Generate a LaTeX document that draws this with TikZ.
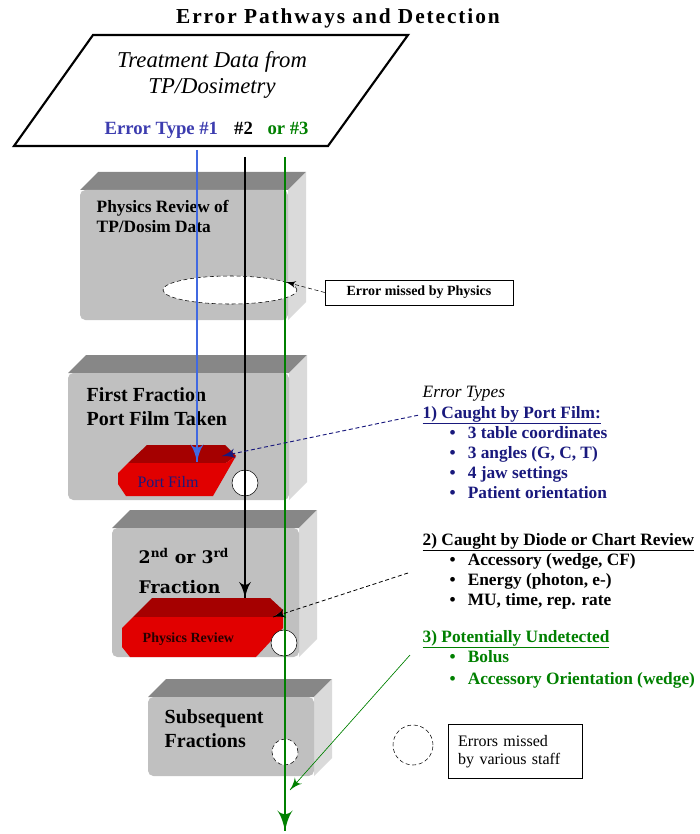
\documentclass[tikz,border=0pt]{standalone}
\usepackage{fontspec}
\setmainfont{Liberation Serif}
\newfontfamily\fracfont{DejaVu Serif}
\usetikzlibrary{arrows}
\usetikzlibrary{decorations.markings}
\usetikzlibrary{positioning}
\usetikzlibrary{shapes.geometric}
\tikzset{tipped/.style = {decoration={markings,
                                      mark=at position 1 with {\arrow[scale=#1]{latex'}}},
                          postaction={decorate}}}
\definecolor{tblue}{RGB}{65,105,225}
\definecolor{tnavy}{RGB}{25,25,125}
\definecolor{ttype}{RGB}{60,60,175}
\definecolor{tgreen}{RGB}{0,128,0}
\definecolor{gfront}{RGB}{192,192,192}
\definecolor{gtop}{RGB}{135,135,135}
\definecolor{gside}{RGB}{218,218,218}
\definecolor{rfront}{RGB}{225,0,0}
\definecolor{rtop}{RGB}{165,0,0}

\begin{document}
\begin{tikzpicture}[x=0.75pt, y=-0.75pt,
    boxlabel/.style = {anchor=base west, align=left, font=\bfseries\fontsize{15}{18}\selectfont},
    listline/.style = {anchor=base west, font=\bfseries\fontsize{13}{15}\selectfont},
    missed/.style = {circle, draw, fill=white, minimum size=19.5pt, inner sep=0pt}]
    \useasboundingbox (0, 0) rectangle (699, 834);

    % gray boxes
    \foreach \l/\t/\r/\b in {80/172/306/320, 68/355/307/500, 112/510/317/657, 148/679/332/776} {
      \fill [gtop] (\l, \t+18) -- (\l+18, \t) -- (\r, \t) -- (\r-18, \t+18) -- cycle;
      \fill [gside] (\r-18, \t+18) -- (\r, \t) -- (\r, \b-18) -- (\r-18, \b) -- cycle;
      \fill [gfront, rounded corners=4pt] (\l, \t+18) rectangle (\r-18, \b);
    }

    \node [font=\bfseries\fontsize{16}{18}\selectfont\addfontfeatures{LetterSpace=9}] (title) at (338, 18) {Error Pathways and Detection};

    \draw [line width=1.6pt] (93, 35) -- (408, 35) -- (328, 146) -- (14, 146) -- cycle;
    \node [align=center, font=\itshape\fontsize{17}{19.5}\selectfont] (tpdata) at (212, 75) {Treatment Data from\\TP/Dosimetry};
    \node [anchor=base west, ttype, font=\bfseries\fontsize{14}{16}\selectfont] (typeA) at (100, 135) {Error Type \#1};
    \node [right=5pt of typeA.base east, anchor=base west, font=\bfseries\fontsize{14}{16}\selectfont] (typeB) {\#2};
    \node [right=4pt of typeB.base east, anchor=base west, tgreen, font=\bfseries\fontsize{14}{16}\selectfont] (typeC) {or \#3};

    % box 1 (base of a two-line label is its last line)
    \node [boxlabel, font=\bfseries\fontsize{13}{15}\selectfont] (physlabel) at (92, 233) {Physics Review of\\TP/Dosim Data};
    \node [ellipse, draw, densely dashed, fill=white, minimum width=100.5pt, minimum height=21pt] (ell) at (230, 290) {};
    \node [draw, fill=white, minimum width=141pt, minimum height=18.75pt, font=\bfseries\fontsize{10.5}{12}\selectfont] (missbox) at (419, 292.5) {Error missed by Physics};

    % box 2
    \node [boxlabel] (firstlabel) at (82, 425) {First Fraction\\Port Film Taken};
    \fill [rtop] (128, 463) -- (147, 445) -- (225, 445) -- (236, 456) -- (226, 463) -- cycle;
    \fill [rfront] (118, 473) -- (128, 463) -- (226, 463) -- (236, 456) -- (213, 496) -- (126, 496) -- (118, 484) -- cycle;
    \node [tnavy, font=\fontsize{12}{14}\selectfont] (filmlabel) at (168, 482) {Port Film};
    \node [missed] (missA) at (245, 483) {};

    % box 3
    \node [boxlabel, font=\fracfont\bfseries\fontsize{13}{22.5}\selectfont] (seclabel) at (134, 593) {2\textsuperscript{nd} or 3\textsuperscript{rd}\\Fraction};
    \fill [rtop] (133, 617) -- (152, 598) -- (270, 598) -- (283, 610) -- (273, 617) -- cycle;
    \fill [rfront] (122, 628) -- (133, 617) -- (273, 617) -- (283, 610) -- (283, 628) -- (256, 657) -- (130, 657) -- (122, 647) -- cycle;
    \node [anchor=base west, font=\bfseries\fontsize{10.5}{12}\selectfont, black!85!red] (revlabel) at (138, 642) {Physics Review};
    \node [missed] (missB) at (284, 643) {};

    % box 4
    \node [boxlabel] (sublabel) at (160, 747) {Subsequent\\Fractions};
    \node [missed, densely dashed] (missC) at (285, 752) {};

    % legend
    \node [missed, densely dashed, minimum size=30pt] (legcircle) at (413, 745) {};
    \node [draw, line width=0.8pt, minimum height=40pt, inner xsep=7.5pt, text width=86pt, align=left, font=\fontsize{12}{14}\selectfont] (legbox) at (515.5, 751.5) {Errors missed\\by various staff};

    % error types
    \node [anchor=base west, font=\itshape\fontsize{13}{15}\selectfont] (types) at (418, 397) {Error Types};
    \node [listline, tnavy] (headA) at (418, 418) {\underline{1) Caught by Port Film:}};
    \node [listline, tnavy] (itemA1) at (445, 438) {\textbullet\hspace{9pt}3 table coordinates};
    \node [listline, tnavy] (itemA2) at (445, 458) {\textbullet\hspace{9pt}3 angles (G, C, T)};
    \node [listline, tnavy] (itemA3) at (445, 478) {\textbullet\hspace{9pt}4 jaw settings};
    \node [listline, tnavy] (itemA4) at (445, 498) {\textbullet\hspace{9pt}Patient orientation};
    \node [listline] (headB) at (418, 545) {\underline{2) Caught by Diode or Chart Review}};
    \node [listline] (itemB1) at (445, 565) {\textbullet\hspace{9pt}Accessory (wedge, CF)};
    \node [listline] (itemB2) at (445, 585) {\textbullet\hspace{9pt}Energy (photon, e-)};
    \node [listline] (itemB3) at (445, 605) {\textbullet\hspace{9pt}MU, time, rep. rate};
    \node [listline, tgreen] (headC) at (418, 642) {\underline{3) Potentially Undetected}};
    \node [listline, tgreen] (itemC1) at (445, 662) {\textbullet\hspace{9pt}Bolus};
    \node [listline, tgreen] (itemC2) at (445, 684) {\textbullet\hspace{9pt}Accessory Orientation (wedge)};

    % error paths
    \coordinate (srcA) at (197, 150);
    \coordinate (srcB) at (245, 157);
    \coordinate (srcC) at (285, 157);
    \coordinate (filmtop) at (197, 462);
    \coordinate (revtop) at (245, 598);
    \coordinate (outlet) at (285, 831);
    \draw [tblue, line width=2pt, tipped=1.5] (srcA) -- (filmtop);
    \draw [line width=0.9pt, tipped=2.2] (srcB) -- (revtop);
    \draw [tgreen, line width=0.9pt, tipped=2.8] (srcC) -- (outlet);

    \coordinate (filmside) at (222, 456);
    \coordinate (revside) at (273, 617);
    \coordinate (fromB) at (408, 573);
    \coordinate (fromC) at (410, 655);
    \coordinate (lastfrac) at (290, 790);
    \draw [densely dashed, black, tipped=1.8] (missbox.west) -- (ell.8);
    \draw [densely dashed, tnavy, line width=0.7pt, tipped=2] (headA.west) -- (filmside);
    \draw [densely dashed, line width=0.6pt, tipped=2] (fromB) -- (revside);
    \draw [tgreen, line width=0.5pt, tipped=2.2] (fromC) -- (lastfrac);
\end{tikzpicture}
\end{document}
